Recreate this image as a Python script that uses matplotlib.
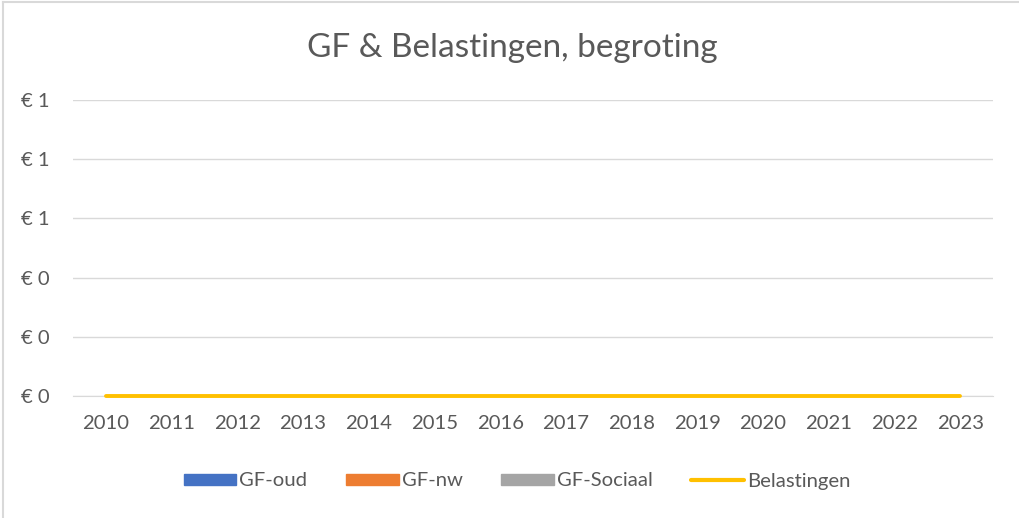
import matplotlib.pyplot as plt
from matplotlib.lines import Line2D
from matplotlib.patches import Patch
from matplotlib.ticker import FuncFormatter
import numpy as np

years = [str(y) for y in range(2010, 2024)]
gf_oud = [0] * 14
gf_nw = [0] * 14
gf_sociaal = [0] * 14
belastingen = [0] * 14

plt.rcParams["font.family"] = ["Lato", "DejaVu Sans"]
txt = "#595959"
grid = "#D9D9D9"

fig = plt.figure(figsize=(10.19, 5.18), dpi=100)
ax = fig.add_axes([73 / 1019, 1 - 396 / 518, 920 / 1019, 296 / 518])

x = np.arange(len(years))
w = 0.25
ax.bar(x - w, gf_oud, w, color="#4472C4")
ax.bar(x, gf_nw, w, color="#ED7D31")
ax.bar(x + w, gf_sociaal, w, color="#A5A5A5")
ax.plot(x, belastingen, color="#FFC000", lw=2.8, solid_capstyle="round", zorder=3, clip_on=False)

ax.set_xlim(-0.5, len(years) - 0.5)
ax.set_ylim(0, 1)
ax.set_yticks(np.arange(0, 1.01, 0.2))
ax.yaxis.set_major_formatter(FuncFormatter(lambda v, p: f"€ {v:.0f}"))
ax.set_xticks(x)
ax.set_xticklabels(years)
ax.grid(axis="y", color=grid, lw=1)
ax.set_axisbelow(True)
for s in ["top", "right", "left"]:
    ax.spines[s].set_visible(False)
ax.spines["bottom"].set_color(grid)
ax.tick_params(axis="both", length=0, labelsize=14.6, colors=txt)
ax.tick_params(axis="x", pad=14)
ax.tick_params(axis="y", pad=17)

fig.text(512 / 1019, 1 - 48 / 518, "GF & Belastingen, begroting", ha="center", va="center",
         fontsize=24, color=txt)

handles = [
    Patch(color="#4472C4", label="GF-oud"),
    Patch(color="#ED7D31", label="GF-nw"),
    Patch(color="#A5A5A5", label="GF-Sociaal"),
    Line2D([], [], color="#FFC000", lw=3, solid_capstyle="round", label="Belastingen"),
]
leg = fig.legend(handles=handles, loc="center", bbox_to_anchor=(517 / 1019, 1 - 481 / 518),
                 ncol=4, frameon=False, fontsize=14.6, handlelength=2.6, handleheight=0.5,
                 handletextpad=0.15, columnspacing=1.9)
for t in leg.get_texts():
    t.set_color(txt)

fig.add_artist(Line2D([3 / 1019, 3 / 1019], [0, 1 - 2 / 518], color=grid, lw=1.5))
fig.add_artist(Line2D([3 / 1019, 1], [1 - 2 / 518, 1 - 2 / 518], color=grid, lw=1.5))

fig.savefig("out.png", dpi=100)
